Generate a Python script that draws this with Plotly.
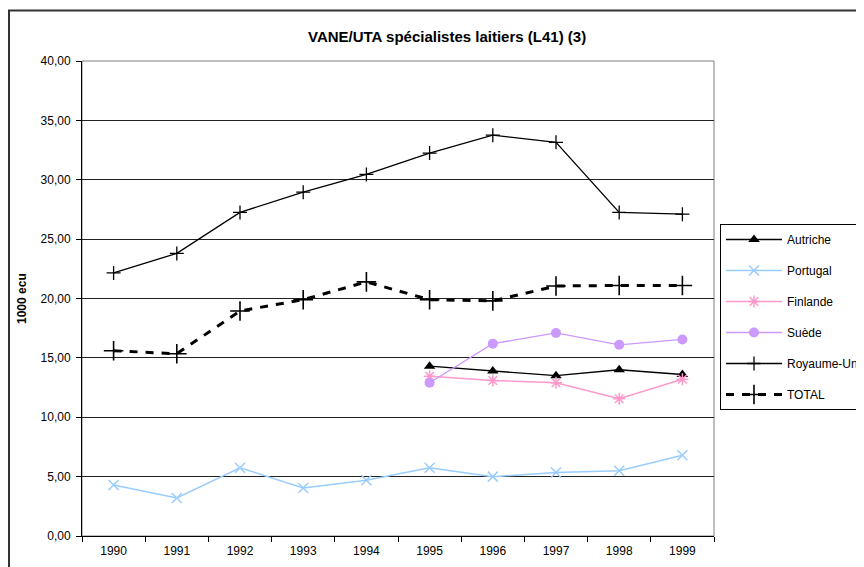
import plotly.graph_objects as go

years = ["1990", "1991", "1992", "1993", "1994", "1995", "1996", "1997", "1998", "1999"]
autriche = [None, None, None, None, None, 14.3, 13.9, 13.5, 14.0, 13.6]
portugal = [4.3, 3.2, 5.75, 4.05, 4.7, 5.75, 5.0, 5.35, 5.5, 6.8]
finlande = [None, None, None, None, None, 13.45, 13.1, 12.9, 11.55, 13.2]
suede = [None, None, None, None, None, 12.9, 16.2, 17.1, 16.1, 16.55]
royaume_uni = [22.15, 23.8, 27.25, 28.95, 30.45, 32.25, 33.75, 33.15, 27.25, 27.1]
total = [15.6, 15.35, 18.95, 19.9, 21.4, 19.9, 19.8, 21.05, 21.1, 21.1]
y_ticks = [0, 5, 10, 15, 20, 25, 30, 35, 40]

# page has an 8px body margin: work in page pixels, convert to figure pixels
OFF = 8
W, H = 864 - OFF, 567 - OFF
L, R, T, B = 82 - OFF, 714 - OFF, 61 - OFF, 536 - OFF


def px(x):
    return ((x - OFF) - L) / (R - L)


def py(y):
    return (B - (y - OFF)) / (B - T)


fig = go.Figure()


def add(name, vals, color, symbol, size, lw=1.3, dash="solid", mlw=1.5):
    fig.add_trace(go.Scatter(
        x=years, y=vals, name=name, mode="lines+markers",
        line=dict(color=color, width=lw, dash=dash),
        marker=dict(symbol=symbol, size=size, color=color,
                    line=dict(color=color, width=mlw)),
        legendgroup=name, connectgaps=False,
    ))


add("Autriche", autriche, "#000000", "triangle-up", 10, lw=1.3, mlw=0)
add("Portugal", portugal, "#99CCFF", "x-thin-open", 10, lw=1.5, mlw=1.5)
add("Finlande", finlande, "#FF99CC", "asterisk-open", 10, lw=1.5, mlw=1.5)
add("Suède", suede, "#CC99FF", "circle", 10, lw=1.3, mlw=0)
add("Royaume-Uni", royaume_uni, "#000000", "cross-thin-open", 10, lw=1.3, mlw=1.3)
add("TOTAL", total, "#000000", "cross-thin-open", 14, lw=3, dash="8px,8px", mlw=1.6)

shapes = [
    # outer chart border
    dict(type="rect", xref="paper", yref="paper",
         x0=px(9), x1=px(880), y0=py(590), y1=py(10.5),
         line=dict(color="#333333", width=2), layer="below"),
    # plot area border (gray)
    dict(type="rect", xref="paper", yref="paper",
         x0=0, x1=1, y0=0, y1=1,
         line=dict(color="#808080", width=1), layer="below"),
]

annotations = [
    dict(text="<b>VANE/UTA spécialistes laitiers (L41) (3)</b>", xref="paper", yref="paper",
         x=px(447), y=py(37), showarrow=False, xanchor="center", yanchor="middle",
         font=dict(size=15, color="#000000")),
    dict(text="<b>1000 ecu</b>", xref="paper", yref="paper",
         x=px(22), y=py(298), showarrow=False, textangle=-90,
         xanchor="center", yanchor="middle", font=dict(size=12, color="#000000")),
]

fig.update_layout(
    width=W, height=H,
    margin=dict(l=L, r=W - R, t=T, b=H - B, autoexpand=False),
    paper_bgcolor="white", plot_bgcolor="white",
    font=dict(family="Liberation Sans, Arial, sans-serif", size=12, color="#000000"),
    separators=", ",
    shapes=shapes, annotations=annotations,
    showlegend=True,
    legend=dict(x=px(720), y=py(224), xanchor="left", yanchor="top",
                bordercolor="#000000", borderwidth=1, bgcolor="white",
                font=dict(size=12, color="#000000"),
                itemwidth=56, tracegroupgap=12, traceorder="grouped",
                itemclick=False),
    xaxis=dict(type="category", categoryorder="array", categoryarray=years,
               tickson="boundaries", ticks="outside", ticklen=5, tickcolor="#000000",
               showline=True, linecolor="#000000", linewidth=1,
               showgrid=False, zeroline=False, range=[-0.5, 9.5],
               ticklabelstandoff=4,
               tickfont=dict(size=12, color="#000000")),
    yaxis=dict(range=[0, 40], tickvals=y_ticks, tickformat=".2f",
               ticks="outside", ticklen=5, tickcolor="#000000",
               showline=True, linecolor="#000000", linewidth=1,
               showgrid=True, gridcolor="#222222", gridwidth=1,
               zeroline=False, ticklabelstandoff=3,
               tickfont=dict(size=12, color="#000000")),
)

fig.write_html("out.html")
